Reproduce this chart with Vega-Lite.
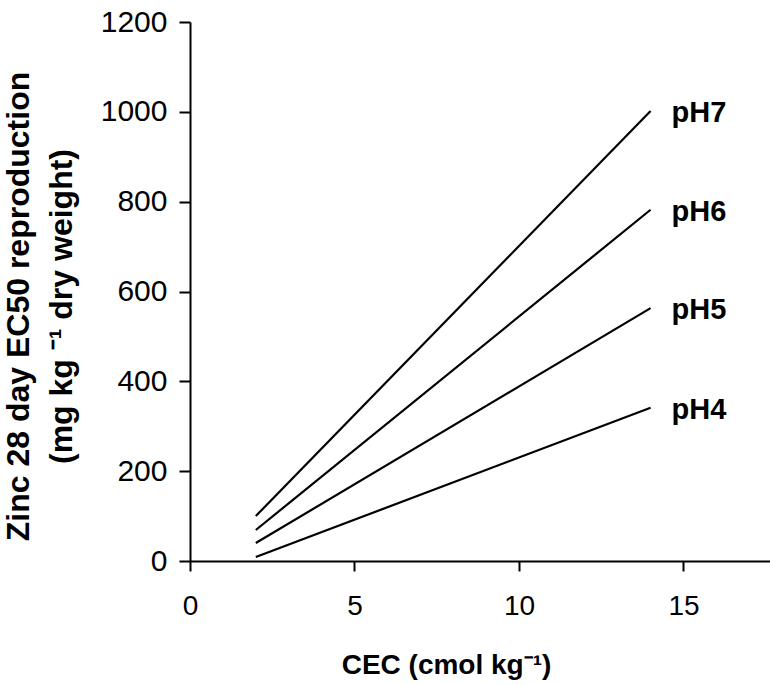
{
  "$schema": "https://vega.github.io/schema/vega-lite/v6.json",
  "autosize": {"type": "none"},
  "padding": {"left": 190, "top": 22, "right": 0, "bottom": 124},
  "width": 580,
  "height": 539,
  "background": "white",
  "config": {
    "view": {"stroke": null},
    "font": "Liberation Sans",
    "axis": {
      "grid": false,
      "domainColor": "black",
      "domainWidth": 2,
      "tickColor": "black",
      "tickWidth": 2,
      "labelColor": "black",
      "labelFont": "Liberation Sans",
      "labelFontSize": 28,
      "titleColor": "black",
      "titleFont": "Liberation Sans",
      "titleFontWeight": "bold",
      "titleFontSize": 28
    }
  },
  "data": {
    "values": [
      {"ph": "pH7", "cec": 2, "zn": 100},
      {"ph": "pH7", "cec": 14, "zn": 1002},
      {"ph": "pH6", "cec": 2, "zn": 69},
      {"ph": "pH6", "cec": 14, "zn": 782},
      {"ph": "pH5", "cec": 2, "zn": 40},
      {"ph": "pH5", "cec": 14, "zn": 563},
      {"ph": "pH4", "cec": 2, "zn": 9},
      {"ph": "pH4", "cec": 14, "zn": 341}
    ]
  },
  "encoding": {
    "x": {
      "field": "cec",
      "type": "quantitative",
      "scale": {"domain": [0, 17.63], "nice": false, "zero": false},
      "axis": {
        "values": [0, 5, 10, 15],
        "format": "d",
        "labelFlush": false,
        "tickSize": 10,
        "labelPadding": 21,
        "title": "CEC (cmol kg⁻¹)",
        "titleX": 256,
        "titlePadding": 31
      }
    },
    "y": {
      "field": "zn",
      "type": "quantitative",
      "scale": {"domain": [0, 1200], "nice": false},
      "axis": {
        "values": [0, 200, 400, 600, 800, 1000, 1200],
        "format": "d",
        "labelFlush": false,
        "labelFontSize": 30,
        "tickSize": 11,
        "labelPadding": 12,
        "title": ["Zinc 28 day EC50 reproduction", "(mg kg ⁻¹  dry weight)"],
        "titleFontSize": 32,
        "titleLineHeight": 43,
        "titlePadding": 22,
        "titleY": 284
      }
    }
  },
  "layer": [
    {
      "mark": {"type": "line", "color": "black", "strokeWidth": 2.2},
      "encoding": {"detail": {"field": "ph"}}
    },
    {
      "transform": [{"filter": "datum.cec == 14"}],
      "mark": {"type": "text", "align": "left", "baseline": "middle", "dx": 21, "dy": 2, "fontSize": 29, "fontWeight": "bold", "color": "black", "font": "Liberation Sans"},
      "encoding": {"text": {"field": "ph"}}
    }
  ]
}
